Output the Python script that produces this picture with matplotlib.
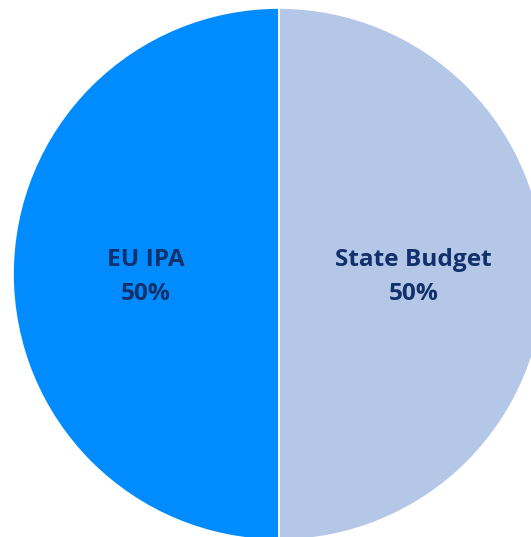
import matplotlib
matplotlib.use("Agg")
import matplotlib.pyplot as plt
import numpy as np

# Funding sources
labels = ["EU IPA", "State Budget"]
shares = [50, 50]
colors = ["#008CFF", "#B4C7E7"]

fig = plt.figure(figsize=(5.31, 5.37), dpi=100)
ax = fig.add_axes([0, 0, 1, 1])

wedges, _ = ax.pie(
    shares,
    colors=colors,
    startangle=90,
    counterclock=True,
    radius=1.0,
    wedgeprops=dict(edgecolor="white", linewidth=1.2),
)

for w, lab, val in zip(wedges, labels, shares):
    ang = np.deg2rad((w.theta1 + w.theta2) / 2)
    x, y = 0.5 * np.cos(ang), 0.5 * np.sin(ang) - 0.01
    if lab == "State Budget":
        x += 0.005
    ax.text(x, y, f"{lab}\n{val}%", ha="center", va="center",
            fontsize=17.6, fontweight="bold", color="#12306B",
            family=["Open Sans", "DejaVu Sans"], linespacing=1.55)

# the chart is cropped on the right and bottom
ax.set_xlim(-279 / 266, 252 / 266)
ax.set_ylim(-263 / 266, 274 / 266)
ax.set_aspect("equal")
ax.axis("off")

fig.savefig("out.png", dpi=100)
